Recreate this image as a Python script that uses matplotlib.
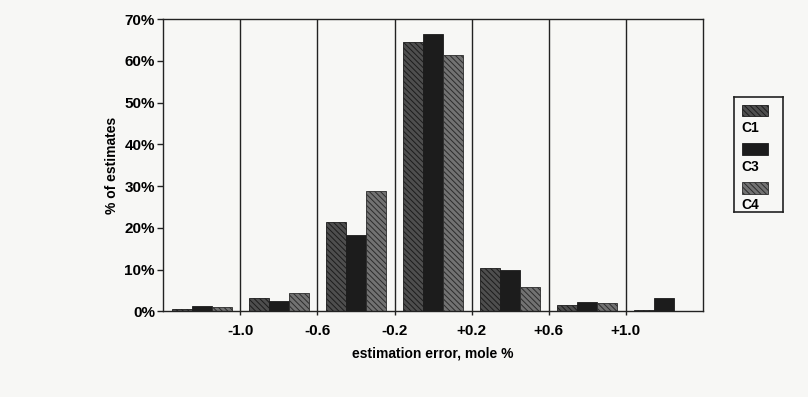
import numpy as np
import matplotlib.pyplot as plt
from matplotlib.patches import Rectangle

## data ##
bins = ['< -1.0', '-1.0..-0.6', '-0.6..-0.2', '-0.2..+0.2', '+0.2..+0.6', '+0.6..+1.0', '> +1.0']
edge_labels = ['-1.0', '-0.6', '-0.2', '+0.2', '+0.6', '+1.0']
c1 = [0.6, 3.2, 21.4, 64.5, 10.3, 1.5, 0.3]
c3 = [1.2, 2.4, 18.2, 66.5, 9.9, 2.2, 3.1]
c4 = [0.9, 4.4, 28.7, 61.5, 5.9, 2.0, 0.0]
series = ['C1', 'C3', 'C4']
##

plt.rcParams['font.family'] = ['Liberation Sans', 'DejaVu Sans']
plt.rcParams['hatch.linewidth'] = 0.7

styles = {'C1': dict(facecolor='#4e4e4e', hatch='\\\\\\\\\\\\', edgecolor='#1c1c1c'),
          'C3': dict(facecolor='#1c1c1c', hatch=None, edgecolor='#1c1c1c'),
          'C4': dict(facecolor='#727272', hatch='\\\\\\\\\\\\', edgecolor='#2c2c2c')}

fig = plt.figure(figsize=(8.08, 3.97), dpi=100)
fig.patch.set_facecolor('#f7f7f5')
ax = fig.add_axes([0.202, 0.216, 0.668, 0.736])
ax.set_facecolor('#f7f7f5')

x = np.arange(len(bins))
w = 0.26
for k, (name, vals) in enumerate(zip(series, [c1, c3, c4])):
    ax.bar(x + (k - 1) * w, vals, width=w, linewidth=0.6, **styles[name])

# bin boundaries as vertical lines
for e in range(1, len(bins)):
    ax.axvline(e - 0.5, color='#222222', lw=1.0)

ax.set_xlim(-0.5, len(bins) - 0.5)
ax.set_ylim(0, 70)
ax.set_yticks(np.arange(0, 71, 10))
ax.set_yticklabels(['%d%%' % v for v in range(0, 71, 10)], fontsize=11, fontweight='bold')
ax.set_xticks(np.arange(len(edge_labels)) + 0.5)
ax.set_xticklabels(edge_labels, fontsize=11, fontweight='bold')
ax.tick_params(axis='x', length=3, width=1, pad=6, color='#222222')
ax.tick_params(axis='y', length=4, width=1, pad=2, color='#222222')
for s in ax.spines.values():
    s.set_linewidth(1.0)
    s.set_color('#222222')

ax.set_xlabel('estimation error, mole %', fontsize=10, fontweight='bold', labelpad=6)
ax.set_ylabel('% of estimates', fontsize=10, fontweight='bold', labelpad=4)

# legend with the swatch above each name
lax = fig.add_axes([0.908, 0.466, 0.061, 0.290])
lax.set_xlim(0, 1)
lax.set_ylim(0, 1)
lax.set_xticks([])
lax.set_yticks([])
lax.set_facecolor('#f7f7f5')
for s in lax.spines.values():
    s.set_linewidth(1.2)
    s.set_color('#222222')
for k, name in enumerate(series):
    top = 0.93 - k * 0.335
    lax.add_patch(Rectangle((0.16, top - 0.10), 0.53, 0.10, linewidth=0.6, **styles[name]))
    lax.text(0.16, top - 0.20, name, fontsize=10, fontweight='bold', va='center', ha='left')

fig.savefig('out.png', dpi=100, facecolor=fig.get_facecolor())
